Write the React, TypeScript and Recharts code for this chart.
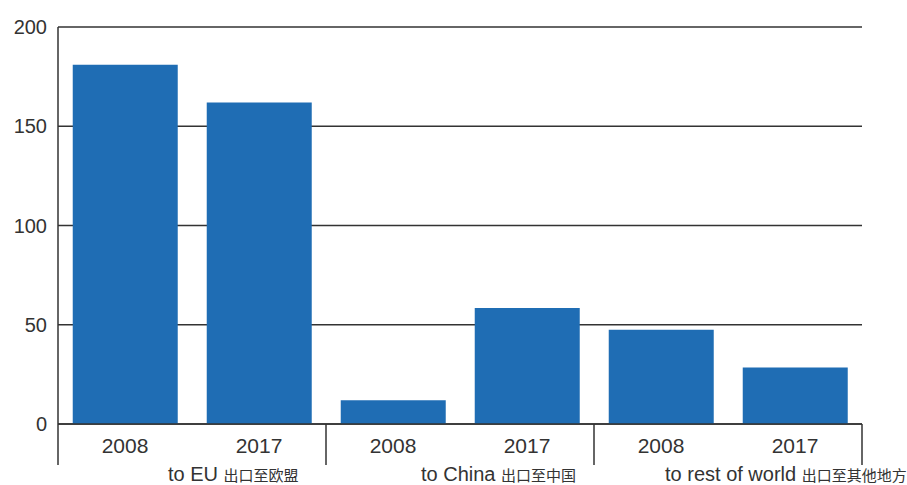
import { BarChart, Bar, XAxis, YAxis, CartesianGrid } from 'recharts';

const years = ['2008', '2017', '2008', '2017', '2008', '2017'];
const values = [181, 162, 12, 58.5, 47.5, 28.5];
const groupNames = ['to EU', 'to China', 'to rest of world'];
const groupNamesZh = ['出口至欧盟', '出口至中国', '出口至其他地方'];
const yTicks = [0, 50, 100, 150, 200];

// where each group caption starts, measured from the group's left divider
const captionOffsets = [110, 95, 71];

const WIDTH = 907;
const HEIGHT = 485;
const MARGIN = { top: 27, right: 45, left: 0, bottom: 0 };
const Y_AXIS_WIDTH = 58;
const X_AXIS_HEIGHT = 61;

const INK = '#333333';
const BAR = '#1f6db4';
const FONT = '"Liberation Sans", Arial, sans-serif';
const CJK = '"Noto Sans CJK SC", sans-serif';

const plotWidth = WIDTH - MARGIN.left - MARGIN.right - Y_AXIS_WIDTH;
const halfBand = plotWidth / years.length / 2;

const data = years.map((year, i) => ({ id: i, year, value: values[i] }));

function YearTick(props: any) {
  const { x, y, payload } = props;
  const i = Number(payload.value);
  const g = Math.floor(i / 2);
  const groupLeft = x - halfBand;
  return (
    <g>
      <text
        x={x}
        y={y + 29}
        textAnchor="middle"
        fill={INK}
        fontSize={21}
        fontFamily={FONT}
      >
        {years[i]}
      </text>
      {i % 2 === 0 && (
        <>
          <line x1={groupLeft} x2={groupLeft} y1={y} y2={y + 41} stroke={INK} strokeWidth={1.5} />
          <text x={groupLeft + captionOffsets[g]} y={y + 57} fill={INK} fontFamily={FONT}>
            <tspan fontSize={20}>{groupNames[g]} </tspan>
            <tspan fontSize={15} fontFamily={CJK}>{groupNamesZh[g]}</tspan>
          </text>
        </>
      )}
      {i === years.length - 1 && (
        <line x1={x + halfBand} x2={x + halfBand} y1={y} y2={y + 41} stroke={INK} strokeWidth={1.5} />
      )}
    </g>
  );
}

export default function App() {
  return (
    <div style={{ position: 'absolute', left: 0, top: 0, background: '#fff' }}>
      <BarChart width={WIDTH} height={HEIGHT} data={data} margin={MARGIN} barCategoryGap="11%">
        <CartesianGrid vertical={false} stroke={INK} strokeWidth={1.3} />
        <XAxis
          dataKey="id"
          type="category"
          height={X_AXIS_HEIGHT}
          axisLine={{ stroke: INK, strokeWidth: 1.5 }}
          tickLine={false}
          tickSize={0}
          tickMargin={0}
          tick={<YearTick />}
          interval={0}
        />
        <YAxis
          width={Y_AXIS_WIDTH}
          domain={[0, 200]}
          ticks={yTicks}
          axisLine={{ stroke: INK, strokeWidth: 1.5 }}
          tickLine={false}
          tickSize={0}
          tickMargin={11}
          tick={{ fill: INK, fontSize: 20, fontFamily: FONT }}
        />
        <Bar dataKey="value" fill={BAR} isAnimationActive={false} />
      </BarChart>
    </div>
  );
}
